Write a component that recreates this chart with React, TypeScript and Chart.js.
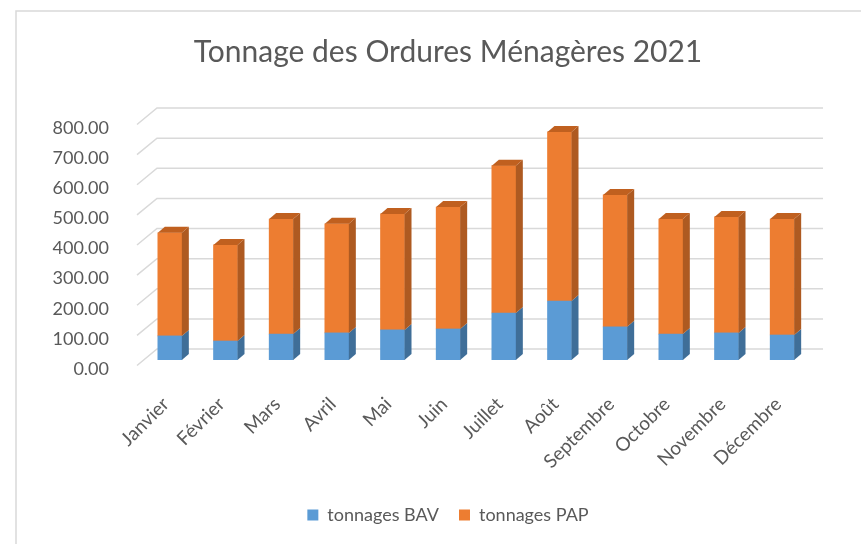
import React, { useEffect, useRef } from "react";
import { Chart, registerables } from "chart.js";

Chart.register(...registerables);

const months = ["Janvier", "Février", "Mars", "Avril", "Mai", "Juin", "Juillet", "Août", "Septembre", "Octobre", "Novembre", "Décembre"];
const tonnagesBAV = [80, 63, 86, 90, 100, 103, 156, 196, 110, 86, 90, 83];
const tonnagesPAP = [342, 319, 382, 362, 385, 405, 489, 561, 438, 382, 385, 385];
const yTickMax = 800;
const yTickStep = 100;

const TEXT = "#595959";
const GRID = "#D9D9D9";
const DX = 7;
const DY = 6;

const sideColors = ["#3F6E98", "#AE5A21"];
const topColors = ["#4F86B8", "#C0601F"];

const threeD = {
  id: "threeD",
  beforeDraw(chart: any) {
    const ctx = chart.ctx;
    ctx.save();
    ctx.strokeStyle = GRID;
    ctx.lineWidth = 1.5;
    ctx.strokeRect(16, 11, 900, 600);
    ctx.restore();
  },
  beforeDatasetsDraw(chart: any) {
    const ctx = chart.ctx;
    const y = chart.scales.y;
    const area = chart.chartArea;
    ctx.save();
    ctx.strokeStyle = GRID;
    ctx.lineWidth = 1.5;
    y.ticks.forEach((t: any) => {
      const py = y.getPixelForValue(t.value);
      ctx.beginPath();
      ctx.moveTo(area.left - 5, py + 5.5);
      ctx.lineTo(area.left + 15, py - 11);
      ctx.lineTo(area.right + 13, py - 11);
      ctx.stroke();
    });
    ctx.restore();
  },
  afterDatasetsDraw(chart: any) {
    const ctx = chart.ctx;
    const n = chart.data.datasets.length;
    ctx.save();
    for (let d = 0; d < n; d++) {
      const meta = chart.getDatasetMeta(d);
      meta.data.forEach((bar: any) => {
        const p = bar.getProps(["x", "y", "base", "width"], true);
        const l = p.x - p.width / 2;
        const r = p.x + p.width / 2;
        const top = Math.min(p.y, p.base);
        const bot = Math.max(p.y, p.base);
        ctx.fillStyle = sideColors[d];
        ctx.beginPath();
        ctx.moveTo(r, top);
        ctx.lineTo(r + DX, top - DY);
        ctx.lineTo(r + DX, bot - DY);
        ctx.lineTo(r, bot);
        ctx.closePath();
        ctx.fill();
        if (d === n - 1) {
          ctx.fillStyle = topColors[d];
          ctx.beginPath();
          ctx.moveTo(l, top);
          ctx.lineTo(l + DX, top - DY);
          ctx.lineTo(r + DX, top - DY);
          ctx.lineTo(r, top);
          ctx.closePath();
          ctx.fill();
        }
      });
    }
    ctx.restore();
  },
};

export default function App() {
  const ref = useRef<HTMLCanvasElement | null>(null);
  useEffect(() => {
    if (!ref.current) return;
    Chart.defaults.font.family = "Lato";
    Chart.defaults.color = TEXT;
    const chart = new Chart(ref.current, {
      type: "bar",
      data: {
        labels: months,
        datasets: [
          { label: "tonnages BAV", data: tonnagesBAV, backgroundColor: "#5B9BD5", borderWidth: 0, barThickness: 24 },
          { label: "tonnages PAP", data: tonnagesPAP, backgroundColor: "#ED7D31", borderWidth: 0, barThickness: 24 },
        ],
      },
      options: {
        responsive: false,
        animation: false,
        devicePixelRatio: 1,
        layout: { padding: { left: 50, right: 15, top: 0, bottom: 10 } },
        plugins: {
          title: {
            display: true,
            text: "Tonnage des Ordures Ménagères 2021",
            color: TEXT,
            font: { size: 30, weight: "normal", family: "Lato" },
            padding: { top: 34, bottom: 49 },
          },
          legend: {
            position: "bottom",
            labels: { boxWidth: 11, boxHeight: 11, padding: 20, color: TEXT, font: { size: 18, family: "Lato" } },
          },
          tooltip: { enabled: false },
        },
        scales: {
          x: {
            stacked: true,
            grid: { display: false },
            border: { display: false },
            ticks: {
              minRotation: 45,
              maxRotation: 45,
              autoSkip: false,
              labelOffset: -4,
              padding: 25,
              color: TEXT,
              font: { size: 19, family: "Lato" },
            },
            afterFit(scale: any) {
              scale.height = 126;
            },
          },
          y: {
            stacked: true,
            min: 0,
            max: yTickMax,
            grid: { display: false },
            border: { display: false },
            ticks: {
              stepSize: yTickStep,
              padding: 25,
              labelOffset: 9,
              color: TEXT,
              font: { size: 18, family: "Lato" },
              callback: (v: any) => Number(v).toFixed(2),
            },
            afterFit(scale: any) {
              scale.width = 92;
            },
          },
          yRight: {
            position: "right",
            display: true,
            grid: { display: false },
            border: { display: false },
            ticks: { display: false },
            afterFit(scale: any) {
              scale.width = 36;
            },
          },
        },
      },
      plugins: [threeD],
    });
    return () => chart.destroy();
  }, []);
  return (
    <div style={{ position: "absolute", left: 0, top: 0, width: 861, height: 544, background: "#fff" }}>
      <canvas ref={ref} width={861} height={544} style={{ display: "block" }} />
    </div>
  );
}
